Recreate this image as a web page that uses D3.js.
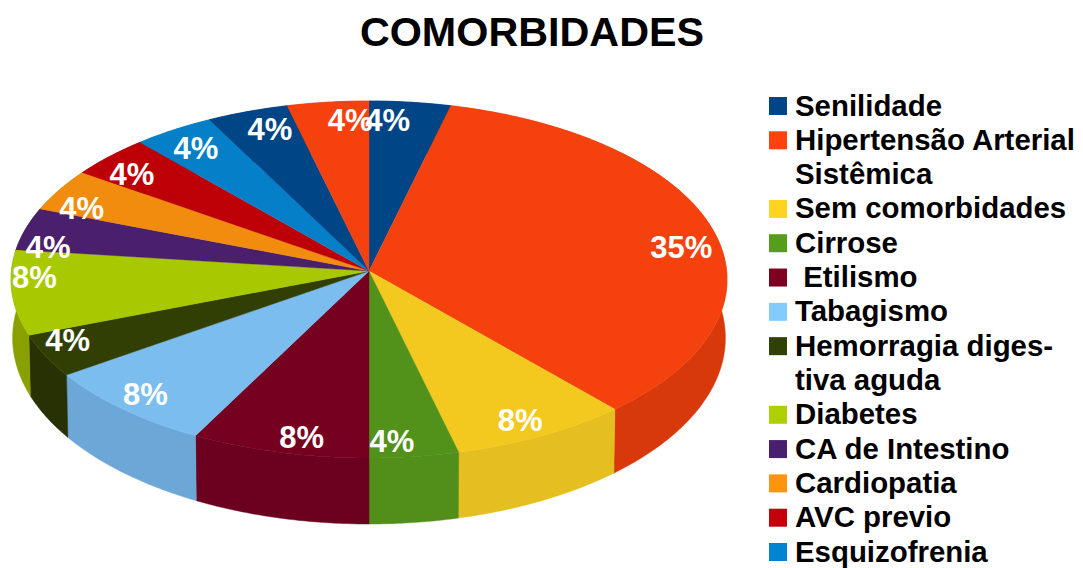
<!DOCTYPE html>
<html lang="pt">
<head>
<meta charset="utf-8">
<title>COMORBIDADES</title>
<script src="https://cdn.jsdelivr.net/npm/d3@7/dist/d3.min.js"></script>
<style>
html,body{margin:0;padding:0;background:#fff;}
svg{display:block;}
text{font-family:"Liberation Sans",Arial,sans-serif;font-weight:bold;}
</style>
</head>
<body>
<svg id="chart" width="1083" height="568"></svg>
<script>
// Data (slice counts out of 26 patients, clockwise from 12 o'clock)
const titleText = "COMORBIDADES";
const sliceCounts = [1, 9, 2, 1, 2, 2, 1, 2, 1, 1, 1, 1, 1, 1];
const legendLabels = [
  ["Senilidade"],
  ["Hipertensão Arterial", "Sistêmica"],
  ["Sem comorbidades"],
  ["Cirrose"],
  [" Etilismo"],
  ["Tabagismo"],
  ["Hemorragia diges-", "tiva aguda"],
  ["Diabetes"],
  ["CA de Intestino"],
  ["Cardiopatia"],
  ["AVC previo"],
  ["Esquizofrenia"]
];
const legendColors = ["#004586","#ff420e","#ffd320","#579d1c","#7e0021","#83caff","#314004","#aecf00","#4b1f6f","#ff950e","#c5000b","#0084d1"];
const topColors    = ["#004586","#f5410e","#f3c91f","#52921b","#750020","#7cbdf0","#323f04","#a8c800","#4a1f6c","#f28c0e","#bd0008","#0580c8"];
const sideColors   = ["#003c74","#d8390a","#e4bf1f","#528f1a","#6b001f","#6ca7d8","#273103","#8a9f00","#3f1a5c","#cf780c","#a10007","#0570ad"];

// Perspective projection of the pie disc
const cx = 369, k = 0.0476;
const topFace = {a: 357.6, cy: 271, b: 178.1};
const botFace = {a: 356, cy: 329, b: 185.7};
function project(face, theta, r) {
  const u = r * Math.sin(theta), v = -r * Math.cos(theta);
  const d = 1 - k * v;
  return [cx + face.a * u / d, face.cy + face.b * v / d];
}

const svg = d3.select("#chart");
const colorIdx = d3.scaleOrdinal().domain(d3.range(12)).range(d3.range(12));
const arcs = d3.pie().sort(null).value(d => d)(sliceCounts);
const total = d3.sum(sliceCounts);
const pct = d3.format(".0%");
const line = d3.line();
function arcPts(face, a0, a1) {
  const n = Math.max(2, Math.ceil((a1 - a0) / 0.01));
  return d3.range(n + 1).map(i => project(face, a0 + (a1 - a0) * i / n, 1));
}

// Side walls
const pie = svg.append("g");
pie.selectAll("path.side").data(arcs).join("path")
  .attr("class", "side")
  .attr("d", d => line(arcPts(topFace, d.startAngle, d.endAngle)
      .concat(arcPts(botFace, d.startAngle, d.endAngle).reverse())) + "Z")
  .attr("fill", d => sideColors[colorIdx(d.index % 12)])
  .attr("stroke", d => sideColors[colorIdx(d.index % 12)])
  .attr("stroke-width", 0.5);

// Top faces
pie.selectAll("path.top").data(arcs).join("path")
  .attr("class", "top")
  .attr("d", d => line([project(topFace, 0, 0)].concat(arcPts(topFace, d.startAngle, d.endAngle))) + "Z")
  .attr("fill", d => topColors[colorIdx(d.index % 12)])
  .attr("stroke", d => topColors[colorIdx(d.index % 12)])
  .attr("stroke-width", 0.4);

// Value labels: box tucked inside the rim at the slice's mid-angle
const labels = svg.append("g").attr("fill", "#fff").attr("font-size", 31);
labels.selectAll("text").data(arcs).join("text")
  .text(d => pct(d.value / total))
  .attr("text-anchor", "middle")
  .attr("dy", "0.35em")
  .each(function (d) {
    const mid = (d.startAngle + d.endAngle) / 2;
    const [x, y] = project(topFace, mid, 1);
    const w = this.getComputedTextLength();
    const sx = Math.sin(mid) >= 0 ? -1 : 1, sy = Math.cos(mid) >= 0 ? 1 : -1;
    d3.select(this).attr("x", x + sx * w / 2).attr("y", y + (sy > 0 ? 18 : -15));
  });

// Title
svg.append("text").attr("x", 532).attr("y", 46).attr("text-anchor", "middle")
  .attr("font-size", 41.3).attr("fill", "#000").text(titleText);

// Legend
const lineCount = d3.sum(legendLabels, d => d.length);
const rowY = d3.scaleLinear().domain([0, lineCount - 1]).range([115.5, 561.5]);
const legend = svg.append("g").attr("font-size", 29.4).attr("fill", "#000");
let row = 0;
legendLabels.forEach((lines, i) => {
  const start = row;
  legend.append("rect").attr("x", 769).attr("y", rowY(start) - 18.5)
    .attr("width", 18).attr("height", 18).attr("fill", legendColors[i]);
  lines.forEach(t => {
    legend.append("text").attr("x", 795).attr("y", rowY(row))
      .attr("xml:space", "preserve").style("white-space", "pre").text(t);
    row++;
  });
});
</script>
</body>
</html>
